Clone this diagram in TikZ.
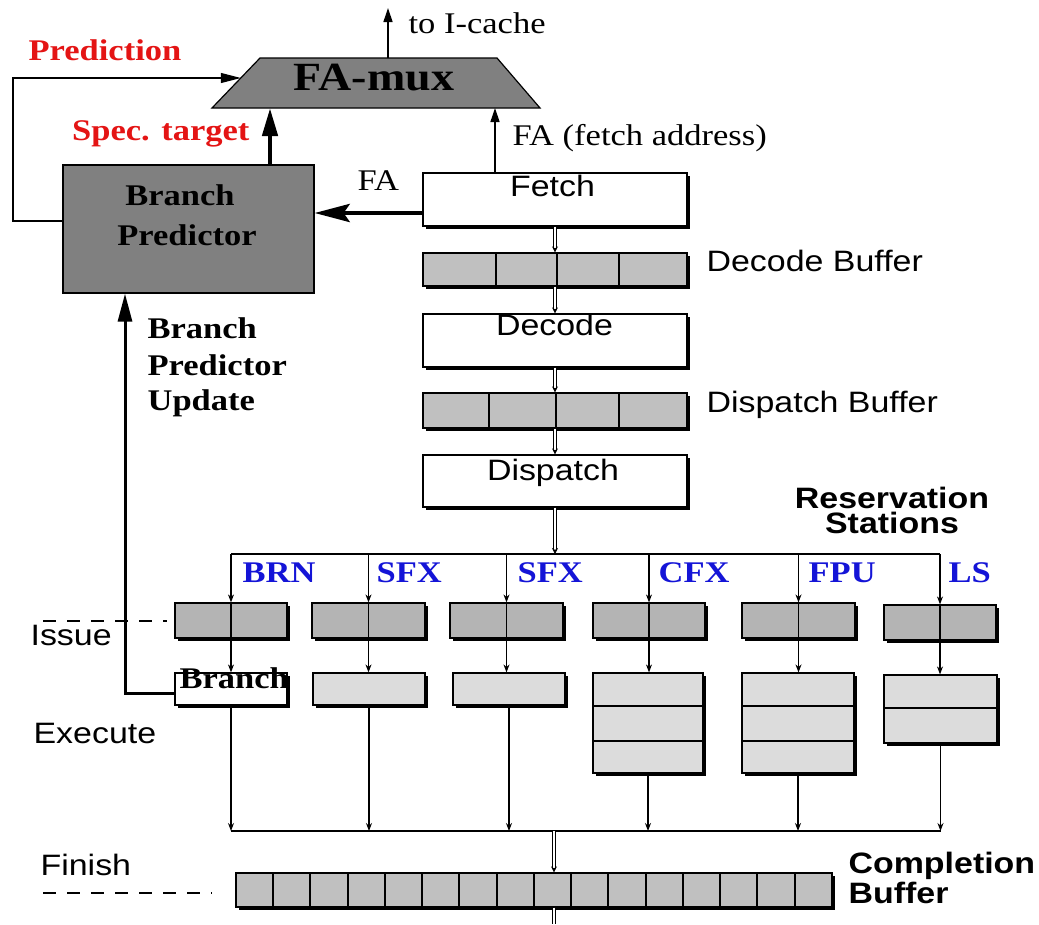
\documentclass[tikz,border=0pt]{standalone}
\usepackage{fontspec}
\setmainfont{Liberation Serif}[FakeStretch=1.15]
\newfontfamily\hv{Liberation Sans}[FakeStretch=1.15]
\usetikzlibrary{arrows.meta,shadows}

\definecolor{muxgray}{RGB}{128,128,128}
\definecolor{rsgray}{RGB}{180,180,180}
\definecolor{bufgray}{RGB}{192,192,192}
\definecolor{exgray}{RGB}{220,220,220}
\definecolor{predred}{RGB}{228,20,20}
\definecolor{unitblue}{RGB}{20,20,215}

\begin{document}
\begin{tikzpicture}[x=1pt,y=-1pt,line width=1.2pt,
  shadowbox/.style={draw, inner sep=0pt,
    drop shadow={shadow xshift=3pt, shadow yshift=-3pt, opacity=1, fill=black}},
  stagebox/.style={shadowbox, fill=white, minimum width=264pt},
  bufbox/.style={shadowbox, fill=bufgray, minimum width=264pt},
  rsbox/.style={shadowbox, fill=rsgray, minimum height=35pt},
  exbox/.style={shadowbox, fill=exgray},
  sanslbl/.style={font=\hv\fontsize{29.5}{30}\selectfont, inner sep=0pt},
  sansbold/.style={font=\hv\bfseries\fontsize{29.5}{30}\selectfont, inner sep=0pt},
  seriflbl/.style={font=\fontsize{30}{30}\selectfont, inner sep=0pt},
  serifbold/.style={font=\bfseries\fontsize{30}{30}\selectfont, inner sep=0pt},
  unitlbl/.style={serifbold, text=unitblue, anchor=base west},
  dblarr/.style={double distance=2.2pt, line width=0.7pt, -{Stealth[length=6pt,width=6pt]}},
  dblline/.style={double distance=2.2pt, line width=0.7pt},
  smallarr/.style={line width=1.1pt, -{Stealth[length=8pt,width=6pt]}},
  thinarr/.style={line width=1.3pt, -{Triangle[length=14pt,width=9pt]}},
  predarr/.style={line width=1.2pt, -{Triangle[length=20pt,width=10pt]}},
  specarr/.style={line width=4.5pt, -{Triangle[length=28pt,width=15pt]}},
  faarr/.style={line width=4.5pt, -{Stealth[length=35pt,width=18pt,inset=6pt]}},
  updarr/.style={line width=3pt, -{Triangle[length=28pt,width=14pt]}},
  guide/.style={line width=1.1pt, dash pattern=on 13pt off 11pt}
]
\useasboundingbox (0,0) rectangle (1039,924);
\fill[white] (0,0) rectangle (1039,924);

% ---------- fetch-address multiplexer ----------
\coordinate (mtl) at (260,58);
\coordinate (mtr) at (497,58);
\coordinate (mbr) at (540,108);
\coordinate (mbl) at (212,108);
\draw[fill=muxgray] (mtl) -- (mtr) -- (mbr) -- (mbl) -- cycle;
\node[font=\bfseries\fontsize{40}{40}\selectfont, inner sep=0pt, anchor=base] (famux) at (374,90) {FA-mux};
\coordinate (icache) at (388,8);
\draw[thinarr] (icache |- mtl) -- (icache);
\node[seriflbl, anchor=base west] (icachelbl) at (408,33) {to I-cache};

% ---------- branch predictor ----------
\node[draw, fill=muxgray, inner sep=0pt, minimum width=251pt, minimum height=128pt] (bp) at (188.5,229) {};
\node[serifbold, anchor=base] (bpl1) at (180,205) {Branch};
\node[serifbold, anchor=base] (bpl2) at (187,245) {Predictor};

% ---------- pipeline stages ----------
\node[stagebox, minimum height=53pt] (fetch) at (555,199.5) {};
\node[bufbox, minimum height=33pt] (decbuf) at (555,269.5) {};
\node[stagebox, minimum height=53pt] (decode) at (555,340.5) {};
\node[bufbox, minimum height=35pt] (dispbuf) at (555,410.5) {};
\node[stagebox, minimum height=52pt] (dispatch) at (555,481) {};
\foreach \x in {496,557,619} \draw (\x,0 |- decbuf.north) -- (\x,0 |- decbuf.south);
\foreach \x in {489,556,619} \draw (\x,0 |- dispbuf.north) -- (\x,0 |- dispbuf.south);

\node[sanslbl, anchor=base] (fetchlbl) at (552.5,196) {Fetch};
\node[sanslbl, anchor=base] (decodelbl) at (554.5,335) {Decode};
\node[sanslbl, anchor=base] (dispatchlbl) at (553,480) {Dispatch};
\node[sanslbl, anchor=base west] (decbuflbl) at (706,271) {Decode Buffer};
\node[sanslbl, anchor=base west] (dispbuflbl) at (706,412) {Dispatch Buffer};

\draw[dblarr] (fetch.south) -- (decbuf.north);
\draw[dblarr] (decbuf.south) -- (decode.north);
\draw[dblarr] (decode.south) -- (dispbuf.north);
\draw[dblarr] (dispbuf.south) -- (dispatch.north);

% ---------- fetch address paths ----------
\draw[thinarr] (495,0 |- fetch.north) -- (495,0 |- mbl);
\node[seriflbl, anchor=base west] (falbl) at (512,145) {FA (fetch address)};
\draw[faarr] (fetch.west |- 0,213) -- (bp.east |- 0,213);
\node[seriflbl, anchor=base west] (fabp) at (357,190) {FA};
\draw[specarr] (270,0 |- bp.north) -- (270,0 |- mbl);
\node[serifbold, text=predred, anchor=base east] (speclbl) at (250,140) {Spec. target};
\coordinate (muxin) at (240.8,78);
\draw[predarr] (bp.west |- 0,221) -| (13,0 |- muxin) -- (muxin);
\node[serifbold, text=predred, anchor=base west] (predlbl) at (28,60) {Prediction};

% ---------- dispatch bus and reservation stations ----------
\coordinate (busL) at (231,554);
\coordinate (busR) at (940,554);
\coordinate (busM) at (555,554);
\draw[dblarr] (dispatch.south) -- (busM);
\draw (busL) -- (busR);
\node[font=\hv\bfseries\fontsize{29.5}{25}\selectfont, inner sep=0pt, align=center]
  (rslbl) at (892,510.75) {Reservation\\Stations};

\node[rsbox, minimum width=112pt] (rs1) at (231,620.5) {};
\node[rsbox, minimum width=113pt] (rs2) at (368.5,620.5) {};
\node[rsbox, minimum width=113pt] (rs3) at (506.5,620.5) {};
\node[rsbox, minimum width=112pt] (rs4) at (649,620.5) {};
\node[rsbox, minimum width=113pt] (rs5) at (798.5,620.5) {};
\node[rsbox, minimum width=112pt] (rs6) at (940,622.5) {};

\node[unitlbl] (u1) at (242,582) {BRN};
\node[unitlbl] (u2) at (376,582) {SFX};
\node[unitlbl] (u3) at (517,582) {SFX};
\node[unitlbl] (u4) at (658,582) {CFX};
\node[unitlbl] (u5) at (808,582) {FPU};
\node[unitlbl] (u6) at (948,582) {LS};

% ---------- execution units ----------
\node[shadowbox, fill=white, minimum width=112pt, minimum height=32pt] (ex1) at (231,689) {};
\node[exbox, minimum width=112pt, minimum height=32pt] (ex2) at (369,689) {};
\node[exbox, minimum width=112pt, minimum height=32pt] (ex3) at (509,689) {};
\node[exbox, minimum width=110pt, minimum height=100pt] (ex4) at (648,723) {};
\node[exbox, minimum width=112pt, minimum height=100pt] (ex5) at (798,723) {};
\node[exbox, minimum width=113pt, minimum height=68pt] (ex6) at (940.5,709) {};
\foreach \n in {ex4,ex5} {
  \draw (\n.west |- 0,706) -- (\n.east |- 0,706);
  \draw (\n.west |- 0,741) -- (\n.east |- 0,741);
}
\draw (ex6.west |- 0,708) -- (ex6.east |- 0,708);
\node[serifbold, anchor=base west] (brlbl) at (179,688) {Branch};

% ---------- result bus and completion buffer ----------
\coordinate (cbusL) at (231,831);
\coordinate (cbusR) at (940.5,831);
\coordinate (cbusM) at (554,831);
\draw (cbusL) -- (cbusR);

\foreach \i in {1,...,6} {
  \draw[smallarr] (rs\i.north |- busL) -- (rs\i.north);
  \draw (rs\i.north) -- (rs\i.south);
  \draw[smallarr] (rs\i.south) -- (rs\i.south |- ex\i.north);
  \draw[smallarr] (ex\i.south) -- (ex\i.south |- cbusL);
}

\node[bufbox, minimum width=596pt, minimum height=34pt] (cbuf) at (534,890) {};
\foreach \xx in {273,310,348,385,422,459,497,534,571,608,646,683,720,757,795}
  \draw (\xx,0 |- cbuf.north) -- (\xx,0 |- cbuf.south);
\draw[dblarr] (cbusM) -- (cbusM |- cbuf.north);
\coordinate (retire) at (554,924);
\draw[dblline] (cbusM |- cbuf.south) -- (retire);
\node[sansbold, anchor=base west] (cblbl1) at (848,873) {Completion};
\node[sansbold, anchor=base west] (cblbl2) at (848,903) {Buffer};

% ---------- branch predictor update ----------
\coordinate (updc) at (125,693);
\draw[updarr] (ex1.west |- updc) -- (updc) -- (updc |- bp.south);
\node[serifbold, anchor=base west] (upd1) at (147,338) {Branch};
\node[serifbold, anchor=base west] (upd2) at (147,375) {Predictor};
\node[serifbold, anchor=base west] (upd3) at (147,410) {Update};

% ---------- stage names ----------
\node[sanslbl, anchor=base west] (issuelbl) at (30,645) {Issue};
\draw[guide] (43,621) -- (167,621);
\node[sanslbl, anchor=base west] (execlbl) at (33,743) {Execute};
\node[sanslbl, anchor=base west] (finishlbl) at (40,875) {Finish};
\draw[guide] (43,893) -- (212,893);
\end{tikzpicture}
\end{document}
